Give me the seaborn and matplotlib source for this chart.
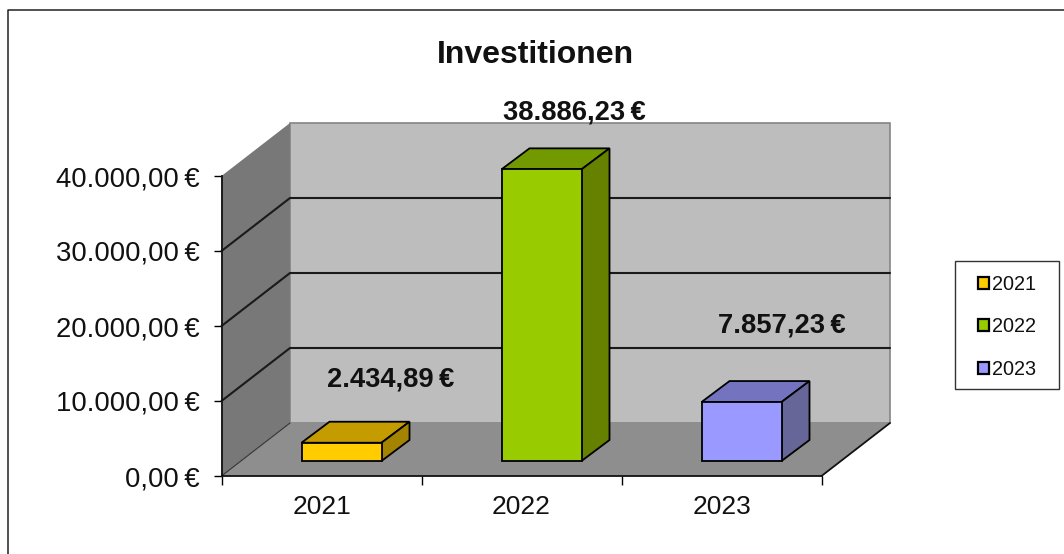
#!/usr/bin/env python3
"""Investitionen: fake 3D column chart, Excel style."""

import matplotlib

matplotlib.use("Agg")
import matplotlib.pyplot as plt
import pandas as pd
import seaborn as sns
from matplotlib.lines import Line2D
from matplotlib.patches import Polygon, Rectangle

years = ["2021", "2022", "2023"]
investments = [2434.89, 38886.23, 7857.23]
y_ticks = [0, 10000, 20000, 30000, 40000]

front_colors = ["#ffcc00", "#99cc00", "#9999ff"]
top_colors = ["#c49c00", "#739900", "#7373bf"]
side_colors = ["#a38300", "#668000", "#666699"]

# label offsets from the top centre of each bar, in pixels
label_offsets = [(49, 63), (33, 57), (40, 77)]

WIDTH, HEIGHT = 1064, 554
AX_LEFT, AX_RIGHT, AX_BOTTOM, AX_TOP = 221.5, 821.5, 476, 176
X_UNIT = 3 / (AX_RIGHT - AX_LEFT)
Y_UNIT = 40000 / (AX_BOTTOM - AX_TOP)


def euro(value: float) -> str:
    text = f"{value:,.2f}".replace(",", "X").replace(".", ",").replace("X", ".")
    return f"{text}\u2009€"


def add_poly(ax, points, color, zorder, edge="none", lw=0.0):
    ax.add_patch(
        Polygon(points, closed=True, facecolor=color, edgecolor=edge, linewidth=lw,
                zorder=zorder, clip_on=False)
    )


def draw_box(ax, depth_x, depth_y):
    x0, x1, top = -0.5, 2.5, 40000
    bx0, bx1, by0, by1 = x0 + depth_x, x1 + depth_x, depth_y, top + depth_y

    add_poly(ax, [(bx0, by0), (bx1, by0), (bx1, by1), (bx0, by1)], "#bdbdbd", 0.5, "#858585", 1.2)
    add_poly(ax, [(x0, 0), (bx0, by0), (bx0, by1), (x0, top)], "#787878", 0.6)
    add_poly(ax, [(x0, 0), (x1, 0), (bx1, by0), (bx0, by0)], "#8e8e8e", 0.7)
    ax.plot([x1, bx1], [0, by0], color="#111111", lw=1.3, zorder=0.9, clip_on=False)
    ax.plot([x0, bx0], [0, by0], color="#333333", lw=0.8, zorder=0.9, clip_on=False)

    for tick in y_ticks[1:-1]:
        ax.plot([x0, bx0, bx1], [tick, tick + depth_y, tick + depth_y],
                color="#1a1a1a", lw=1.5, zorder=0.8, clip_on=False)


def draw_bar_faces(ax, bar, top_color, side_color, depth_x, depth_y):
    x0, x1 = bar.get_x(), bar.get_x() + bar.get_width()
    y0, y1 = bar.get_y(), bar.get_y() + bar.get_height()
    add_poly(ax, [(x0, y1), (x1, y1), (x1 + depth_x, y1 + depth_y), (x0 + depth_x, y1 + depth_y)],
             top_color, 2.5, "black", 1.3)
    add_poly(ax, [(x1, y0), (x1 + depth_x, y0 + depth_y), (x1 + depth_x, y1 + depth_y), (x1, y1)],
             side_color, 2.5, "black", 1.3)


def main() -> None:
    sns.set_theme(style="white")
    plt.rcParams["font.family"] = ["Liberation Sans", "DejaVu Sans"]

    df = pd.DataFrame({"year": years, "value": investments})

    fig = plt.figure(figsize=(WIDTH / 100, HEIGHT / 100), dpi=100)
    ax = fig.add_axes([
        AX_LEFT / WIDTH,
        1 - AX_BOTTOM / HEIGHT,
        (AX_RIGHT - AX_LEFT) / WIDTH,
        (AX_BOTTOM - AX_TOP) / HEIGHT,
    ])

    sns.barplot(
        data=df, x="year", y="value", hue="year", palette=front_colors, dodge=False,
        width=0.4, saturation=1, edgecolor="black", linewidth=1.3, ax=ax, zorder=2,
        legend=True,
    )
    ax.patch.set_visible(False)
    ax.set_xlim(-0.5, 2.5)
    ax.set_ylim(0, 40000)
    ax.set_xlabel("")
    ax.set_ylabel("")

    bars = list(ax.patches)[:3]
    draw_box(ax, 68.5 * X_UNIT, 53 * Y_UNIT)

    for i, bar in enumerate(bars):
        # columns stand in the middle of the floor, not on its front edge
        bar.set_x(bar.get_x() + 20 * X_UNIT)
        bar.set_y(15 * Y_UNIT)
        bar.set_zorder(3)
        bar.set_clip_on(False)
        draw_bar_faces(ax, bar, top_colors[i], side_colors[i], 28 * X_UNIT, 21 * Y_UNIT)
        ax.annotate(
            euro(investments[i]),
            xy=(bar.get_x() + bar.get_width() / 2, bar.get_y() + bar.get_height()),
            xytext=label_offsets[i], textcoords="offset pixels",
            ha="center", va="center", fontsize=19.7, fontweight="bold", color="#111111",
            annotation_clip=False, zorder=5,
        )

    ax.set_yticks(y_ticks, [euro(t) for t in y_ticks])
    ax.set_xticks([-0.5, 0.5, 1.5, 2.5], [""] * 4)
    ax.set_xticks([0, 1, 2], years, minor=True)
    ax.tick_params(axis="y", left=True, length=6, width=1.0, color="black", pad=10,
                   labelsize=19.8, labelcolor="#111111")
    ax.tick_params(axis="x", which="major", bottom=True, length=6.5, width=1.0, color="black")
    ax.tick_params(axis="x", which="minor", bottom=False, length=0, pad=14,
                   labelsize=19, labelcolor="#111111")
    for name in ["top", "right"]:
        ax.spines[name].set_visible(False)
    for name in ["left", "bottom"]:
        ax.spines[name].set_color("#111111")
        ax.spines[name].set_linewidth(1.3)
        ax.spines[name].set_zorder(1)

    sns.move_legend(
        ax, loc="upper left", bbox_to_anchor=(978 / WIDTH, 1 - 275 / HEIGHT),
        bbox_transform=fig.transFigure, title=None, frameon=False, fontsize=14.3,
        handlelength=0.55, handleheight=0.55, handletextpad=0.15, labelspacing=1.18,
        borderpad=0, borderaxespad=0,
    )
    legend = ax.get_legend()
    for text in legend.get_texts():
        text.set_color("#111111")
    for handle in legend.legend_handles:
        handle.set_linewidth(1.6)

    # legend box is wider than the legend's own padding allows, so it is drawn apart
    fig.add_artist(Rectangle((955 / WIDTH, 1 - 389 / HEIGHT), 104 / WIDTH, 128 / HEIGHT,
                             transform=fig.transFigure, facecolor="white", edgecolor="#333333",
                             linewidth=1.0, zorder=-1))

    fig.text(535 / WIDTH, 1 - 55 / HEIGHT, "Investitionen", ha="center", va="center",
             fontsize=23, fontweight="bold", color="#111111")

    # chart frame, only its top and left edges are inside the image
    fig.add_artist(Line2D([7.5 / WIDTH, 7.5 / WIDTH, 1], [0, 1 - 10 / HEIGHT, 1 - 10 / HEIGHT],
                          color="#222222", lw=1.1))

    fig.savefig("out.png", dpi=100, facecolor="white")
    plt.close(fig)


if __name__ == "__main__":
    main()
